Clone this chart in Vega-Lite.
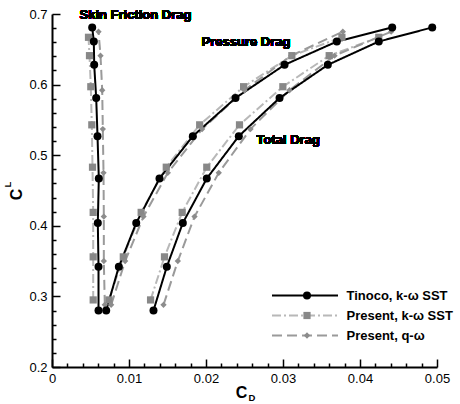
{
  "$schema": "https://vega.github.io/schema/vega-lite/v6.json",
  "width": 385,
  "height": 353,
  "autosize": {"type": "none"},
  "padding": {"left": 52, "top": 14, "right": 23, "bottom": 37},
  "background": "white",
  "config": {
    "view": {"stroke": null},
    "font": "Liberation Sans",
    "axis": {"domainColor": "black", "domainWidth": 2, "tickColor": "black", "tickWidth": 1.5, "grid": false, "labelFont": "Liberation Sans", "labelFontSize": 13, "labelColor": "black", "titleColor": "black", "titleFont": "Liberation Sans", "titleFontWeight": "bold"}
  },
  "data": {"values": [
    {"method": "Present, k-ω SST", "part": "skin", "CD": 0.00535, "CL": 0.295},
    {"method": "Present, k-ω SST", "part": "skin", "CD": 0.00535, "CL": 0.356},
    {"method": "Present, k-ω SST", "part": "skin", "CD": 0.00535, "CL": 0.419},
    {"method": "Present, k-ω SST", "part": "skin", "CD": 0.00526, "CL": 0.483},
    {"method": "Present, k-ω SST", "part": "skin", "CD": 0.00517, "CL": 0.543},
    {"method": "Present, k-ω SST", "part": "skin", "CD": 0.00504, "CL": 0.597},
    {"method": "Present, k-ω SST", "part": "skin", "CD": 0.00487, "CL": 0.641},
    {"method": "Present, k-ω SST", "part": "skin", "CD": 0.00474, "CL": 0.667},
    {"method": "Present, k-ω SST", "part": "pressure", "CD": 0.0074, "CL": 0.295},
    {"method": "Present, k-ω SST", "part": "pressure", "CD": 0.00926, "CL": 0.356},
    {"method": "Present, k-ω SST", "part": "pressure", "CD": 0.01158, "CL": 0.419},
    {"method": "Present, k-ω SST", "part": "pressure", "CD": 0.01484, "CL": 0.483},
    {"method": "Present, k-ω SST", "part": "pressure", "CD": 0.01918, "CL": 0.543},
    {"method": "Present, k-ω SST", "part": "pressure", "CD": 0.02488, "CL": 0.597},
    {"method": "Present, k-ω SST", "part": "pressure", "CD": 0.03115, "CL": 0.641},
    {"method": "Present, k-ω SST", "part": "pressure", "CD": 0.03765, "CL": 0.667},
    {"method": "Present, k-ω SST", "part": "total", "CD": 0.0128, "CL": 0.295},
    {"method": "Present, k-ω SST", "part": "total", "CD": 0.01461, "CL": 0.356},
    {"method": "Present, k-ω SST", "part": "total", "CD": 0.01691, "CL": 0.419},
    {"method": "Present, k-ω SST", "part": "total", "CD": 0.0201, "CL": 0.483},
    {"method": "Present, k-ω SST", "part": "total", "CD": 0.02435, "CL": 0.543},
    {"method": "Present, k-ω SST", "part": "total", "CD": 0.02998, "CL": 0.597},
    {"method": "Present, k-ω SST", "part": "total", "CD": 0.036, "CL": 0.641},
    {"method": "Present, k-ω SST", "part": "total", "CD": 0.04244, "CL": 0.667},
    {"method": "Present, q-ω", "part": "skin", "CD": 0.00686, "CL": 0.288},
    {"method": "Present, q-ω", "part": "skin", "CD": 0.00673, "CL": 0.35},
    {"method": "Present, q-ω", "part": "skin", "CD": 0.00673, "CL": 0.413},
    {"method": "Present, q-ω", "part": "skin", "CD": 0.00669, "CL": 0.475},
    {"method": "Present, q-ω", "part": "skin", "CD": 0.0066, "CL": 0.537},
    {"method": "Present, q-ω", "part": "skin", "CD": 0.00652, "CL": 0.592},
    {"method": "Present, q-ω", "part": "skin", "CD": 0.0063, "CL": 0.641},
    {"method": "Present, q-ω", "part": "skin", "CD": 0.00604, "CL": 0.675},
    {"method": "Present, q-ω", "part": "pressure", "CD": 0.00768, "CL": 0.288},
    {"method": "Present, q-ω", "part": "pressure", "CD": 0.0095, "CL": 0.35},
    {"method": "Present, q-ω", "part": "pressure", "CD": 0.01188, "CL": 0.413},
    {"method": "Present, q-ω", "part": "pressure", "CD": 0.01504, "CL": 0.475},
    {"method": "Present, q-ω", "part": "pressure", "CD": 0.0195, "CL": 0.537},
    {"method": "Present, q-ω", "part": "pressure", "CD": 0.025, "CL": 0.592},
    {"method": "Present, q-ω", "part": "pressure", "CD": 0.03106, "CL": 0.641},
    {"method": "Present, q-ω", "part": "pressure", "CD": 0.03777, "CL": 0.675},
    {"method": "Present, q-ω", "part": "total", "CD": 0.01448, "CL": 0.288},
    {"method": "Present, q-ω", "part": "total", "CD": 0.01634, "CL": 0.35},
    {"method": "Present, q-ω", "part": "total", "CD": 0.01851, "CL": 0.413},
    {"method": "Present, q-ω", "part": "total", "CD": 0.02166, "CL": 0.475},
    {"method": "Present, q-ω", "part": "total", "CD": 0.02578, "CL": 0.537},
    {"method": "Present, q-ω", "part": "total", "CD": 0.03084, "CL": 0.592},
    {"method": "Present, q-ω", "part": "total", "CD": 0.03669, "CL": 0.641},
    {"method": "Present, q-ω", "part": "total", "CD": 0.04405, "CL": 0.675},
    {"method": "Tinoco, k-ω SST", "part": "skin", "CD": 0.00604, "CL": 0.28},
    {"method": "Tinoco, k-ω SST", "part": "skin", "CD": 0.00604, "CL": 0.342},
    {"method": "Tinoco, k-ω SST", "part": "skin", "CD": 0.00595, "CL": 0.404},
    {"method": "Tinoco, k-ω SST", "part": "skin", "CD": 0.00608, "CL": 0.467},
    {"method": "Tinoco, k-ω SST", "part": "skin", "CD": 0.00591, "CL": 0.527},
    {"method": "Tinoco, k-ω SST", "part": "skin", "CD": 0.00574, "CL": 0.581},
    {"method": "Tinoco, k-ω SST", "part": "skin", "CD": 0.00548, "CL": 0.628},
    {"method": "Tinoco, k-ω SST", "part": "skin", "CD": 0.00543, "CL": 0.661},
    {"method": "Tinoco, k-ω SST", "part": "skin", "CD": 0.00522, "CL": 0.681},
    {"method": "Tinoco, k-ω SST", "part": "pressure", "CD": 0.00704, "CL": 0.28},
    {"method": "Tinoco, k-ω SST", "part": "pressure", "CD": 0.00868, "CL": 0.342},
    {"method": "Tinoco, k-ω SST", "part": "pressure", "CD": 0.01094, "CL": 0.404},
    {"method": "Tinoco, k-ω SST", "part": "pressure", "CD": 0.01396, "CL": 0.467},
    {"method": "Tinoco, k-ω SST", "part": "pressure", "CD": 0.01829, "CL": 0.527},
    {"method": "Tinoco, k-ω SST", "part": "pressure", "CD": 0.02383, "CL": 0.581},
    {"method": "Tinoco, k-ω SST", "part": "pressure", "CD": 0.0302, "CL": 0.628},
    {"method": "Tinoco, k-ω SST", "part": "pressure", "CD": 0.03699, "CL": 0.661},
    {"method": "Tinoco, k-ω SST", "part": "pressure", "CD": 0.04418, "CL": 0.681},
    {"method": "Tinoco, k-ω SST", "part": "total", "CD": 0.01318, "CL": 0.28},
    {"method": "Tinoco, k-ω SST", "part": "total", "CD": 0.01491, "CL": 0.342},
    {"method": "Tinoco, k-ω SST", "part": "total", "CD": 0.01699, "CL": 0.404},
    {"method": "Tinoco, k-ω SST", "part": "total", "CD": 0.0201, "CL": 0.467},
    {"method": "Tinoco, k-ω SST", "part": "total", "CD": 0.02426, "CL": 0.527},
    {"method": "Tinoco, k-ω SST", "part": "total", "CD": 0.02955, "CL": 0.581},
    {"method": "Tinoco, k-ω SST", "part": "total", "CD": 0.03582, "CL": 0.628},
    {"method": "Tinoco, k-ω SST", "part": "total", "CD": 0.04244, "CL": 0.661},
    {"method": "Tinoco, k-ω SST", "part": "total", "CD": 0.04938, "CL": 0.681}
  ]},
  "resolve": {
    "scale": {"color": "independent", "strokeDash": "independent", "shape": "independent", "size": "independent"},
    "axis": {"x": "independent", "y": "independent"}
  },
  "layer": [
    {
      "mark": {"type": "line", "strokeWidth": 2},
      "encoding": {
        "x": {"field": "CD", "type": "quantitative", "scale": {"domain": [0, 0.05], "nice": false, "zero": false},
          "axis": {"orient": "bottom", "values": [0, 0.01, 0.02, 0.03, 0.04, 0.05], "format": ".2~f", "tickSize": -8, "labelPadding": 13, "labelFlush": false, "labelBound": false, "labelOverlap": false,
            "title": "C", "titleFontSize": 16, "titleX": 189, "titleY": 30, "titleBaseline": "alphabetic", "titleAlign": "center"}},
        "y": {"field": "CL", "type": "quantitative", "scale": {"domain": [0.2, 0.7], "nice": false, "zero": false},
          "axis": {"orient": "left", "values": [0.2, 0.3, 0.4, 0.5, 0.6, 0.7], "format": ".1f", "tickSize": -8, "labelPadding": 13, "labelFlush": false, "labelBound": false, "labelOverlap": false,
            "title": "C", "titleFontSize": 16, "titleAngle": 270, "titleX": -30.5, "titleY": 180, "titleBaseline": "alphabetic", "titleAlign": "center"}},
        "color": {"field": "method", "type": "nominal",
          "scale": {"domain": ["Tinoco, k-ω SST", "Present, k-ω SST", "Present, q-ω"], "range": ["#000000", "#b8b8b8", "#9a9a9a"]},
          "legend": {"title": null, "orient": "none", "legendX": 219.5, "legendY": 275, "padding": 0, "symbolType": "M-6.6,0H6.6", "symbolSize": 100, "symbolStrokeWidth": 2, "symbolOffset": 27, "labelFont": "Liberation Sans", "labelFontSize": 13, "labelFontWeight": "bold", "labelColor": "black", "labelOffset": 35, "rowPadding": 6}},
        "strokeDash": {"field": "method", "type": "nominal",
          "scale": {"domain": ["Tinoco, k-ω SST", "Present, k-ω SST", "Present, q-ω"], "range": [[1, 0], [9, 3, 2, 3], [10, 5]]},
          "legend": {"title": null, "orient": "none", "legendX": 219.5, "legendY": 275, "padding": 0, "symbolType": "M-6.6,0H6.6", "symbolSize": 100, "symbolStrokeWidth": 2, "symbolOffset": 27, "labelFont": "Liberation Sans", "labelFontSize": 13, "labelFontWeight": "bold", "labelColor": "black", "labelOffset": 35, "rowPadding": 6}},
        "detail": {"field": "part", "type": "nominal"},
        "order": {"field": "CL", "type": "quantitative"}
      }
    },
    {
      "mark": {"type": "point", "filled": true, "opacity": 1},
      "encoding": {
        "x": {"field": "CD", "type": "quantitative",
          "axis": {"orient": "bottom", "values": [0.002, 0.004, 0.006, 0.008, 0.012, 0.014, 0.016, 0.018, 0.022, 0.024, 0.026, 0.028, 0.032, 0.034, 0.036, 0.038, 0.042, 0.044, 0.046, 0.048], "tickSize": -4, "labels": false, "domain": false,
            "title": "D", "titleFontSize": 9.5, "titleX": 199.5, "titleY": 33, "titleBaseline": "alphabetic", "titleAlign": "center"}},
        "y": {"field": "CL", "type": "quantitative",
          "axis": {"orient": "left", "values": [0.22, 0.24, 0.26, 0.28, 0.32, 0.34, 0.36, 0.38, 0.42, 0.44, 0.46, 0.48, 0.52, 0.54, 0.56, 0.58, 0.62, 0.64, 0.66, 0.68], "tickSize": -4, "labels": false, "domain": false,
            "title": "L", "titleFontSize": 9.5, "titleAngle": 270, "titleX": -42, "titleY": 170, "titleBaseline": "alphabetic", "titleAlign": "center"}},
        "color": {"field": "method", "type": "nominal",
          "scale": {"domain": ["Tinoco, k-ω SST", "Present, k-ω SST", "Present, q-ω"], "range": ["#000000", "#888888", "#8c8c8c"]},
          "legend": {"title": null, "orient": "none", "legendX": 219.5, "legendY": 275, "padding": 0, "symbolOffset": 29, "labelFontSize": 13, "labelFontWeight": "bold", "labelExpr": "''", "labelOffset": 7, "rowPadding": 6}},
        "shape": {"field": "method", "type": "nominal",
          "scale": {"domain": ["Tinoco, k-ω SST", "Present, k-ω SST", "Present, q-ω"], "range": ["circle", "square", "diamond"]},
          "legend": {"title": null, "orient": "none", "legendX": 219.5, "legendY": 275, "padding": 0, "symbolOffset": 29, "labelFontSize": 13, "labelFontWeight": "bold", "labelExpr": "''", "labelOffset": 7, "rowPadding": 6}},
        "size": {"field": "method", "type": "nominal",
          "scale": {"domain": ["Tinoco, k-ω SST", "Present, k-ω SST", "Present, q-ω"], "range": [64, 40, 60]},
          "legend": {"title": null, "orient": "none", "legendX": 219.5, "legendY": 275, "padding": 0, "symbolOffset": 29, "labelFontSize": 13, "labelFontWeight": "bold", "labelExpr": "''", "labelOffset": 7, "rowPadding": 6}}
      }
    },
    {
      "mark": {"type": "text", "text": "Skin Friction Drag", "font": "Liberation Sans", "fontSize": 13, "fontWeight": "bold", "align": "left", "baseline": "middle", "color": "black"},
      "encoding": {"x": {"datum": 0.00357, "type": "quantitative", "axis": null}, "y": {"datum": 0.6986, "type": "quantitative", "axis": null}}
    },
    {
      "mark": {"type": "text", "text": "Pressure Drag", "font": "Liberation Sans", "fontSize": 13, "fontWeight": "bold", "align": "left", "baseline": "middle", "color": "black"},
      "encoding": {"x": {"datum": 0.01942, "type": "quantitative", "axis": null}, "y": {"datum": 0.6603, "type": "quantitative", "axis": null}}
    },
    {
      "mark": {"type": "text", "text": "Total Drag", "font": "Liberation Sans", "fontSize": 13, "fontWeight": "bold", "align": "left", "baseline": "middle", "color": "black"},
      "encoding": {"x": {"datum": 0.02656, "type": "quantitative", "axis": null}, "y": {"datum": 0.5215, "type": "quantitative", "axis": null}}
    }
  ]
}
